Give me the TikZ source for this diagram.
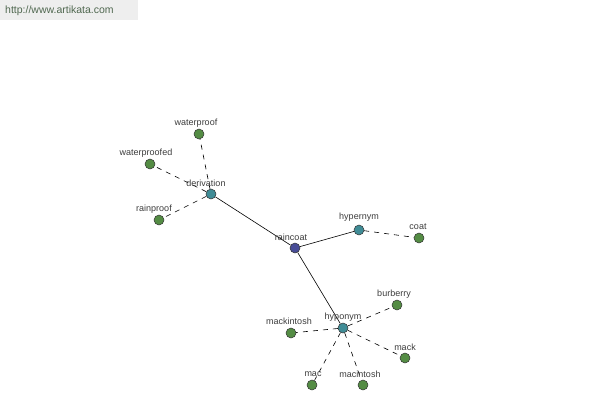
\documentclass[tikz,border=0pt]{standalone}
\usepackage{fontspec}
\setmainfont{Liberation Sans}
\begin{document}
\begin{tikzpicture}[x=1pt,y=-1pt,
  vtx/.style={circle,draw=black!80,line width=0.5pt,minimum size=10pt,inner sep=0pt},
  leaf/.style={vtx,fill={rgb,255:red,84;green,140;blue,68}},
  rel/.style={vtx,fill={rgb,255:red,64;green,140;blue,150}},
  root/.style={vtx,fill={rgb,255:red,72;green,76;blue,150}},
  lbl/.style={font=\fontsize{9}{10}\selectfont,text={rgb,255:red,60;green,60;blue,60},inner sep=0pt},
  solid edge/.style={draw=black,line width=0.6pt},
  dash edge/.style={draw=black,line width=0.6pt,dash pattern=on 5pt off 5pt}]
\useasboundingbox (0,0) rectangle (600,400);
\fill[fill={rgb,255:red,238;green,238;blue,238}] (0,0) rectangle (138,20);
\node[anchor=west,inner sep=0pt,font=\fontsize{10.5}{12}\selectfont,text={rgb,255:red,80;green,104;blue,80}] (url) at (5,11) {http://www.artikata.com};
% nodes
\node[root] (raincoat) at (295,248) {};
\node[rel] (derivation) at (211,194) {};
\node[rel] (hypernym) at (359,230) {};
\node[rel] (hyponym) at (343,328) {};
\node[leaf] (waterproof) at (199,134) {};
\node[leaf] (waterproofed) at (150,164) {};
\node[leaf] (rainproof) at (159,220) {};
\node[leaf] (coat) at (419,238) {};
\node[leaf] (burberry) at (397,305) {};
\node[leaf] (mackintosh) at (291,333) {};
\node[leaf] (mack) at (405,358) {};
\node[leaf] (mac) at (312,385) {};
\node[leaf] (macintosh) at (363,385) {};
% edges
\draw[solid edge] (raincoat) -- (derivation);
\draw[solid edge] (raincoat) -- (hypernym);
\draw[solid edge] (raincoat) -- (hyponym);
\draw[dash edge] (derivation) -- (waterproof);
\draw[dash edge] (derivation) -- (waterproofed);
\draw[dash edge] (derivation) -- (rainproof);
\draw[dash edge] (hypernym) -- (coat);
\draw[dash edge] (hyponym) -- (burberry);
\draw[dash edge] (hyponym) -- (mackintosh);
\draw[dash edge] (hyponym) -- (mack);
\draw[dash edge] (hyponym) -- (mac);
\draw[dash edge] (hyponym) -- (macintosh);
% labels
\node[lbl] (l-raincoat) at (291,237) {raincoat};
\node[lbl] (l-derivation) at (206,183) {derivation};
\node[lbl] (l-hypernym) at (359,217) {hypernym};
\node[lbl] (l-hyponym) at (343,317) {hyponym};
\node[lbl] (l-waterproof) at (196,123) {waterproof};
\node[lbl] (l-waterproofed) at (146,153) {waterproofed};
\node[lbl] (l-rainproof) at (154,209) {rainproof};
\node[lbl] (l-coat) at (418,227) {coat};
\node[lbl] (l-burberry) at (394,294) {burberry};
\node[lbl] (l-mackintosh) at (289,321) {mackintosh};
\node[lbl] (l-mack) at (405,347) {mack};
\node[lbl] (l-mac) at (313,374) {mac};
\node[lbl] (l-macintosh) at (360,374) {macintosh};
\end{tikzpicture}
\end{document}
